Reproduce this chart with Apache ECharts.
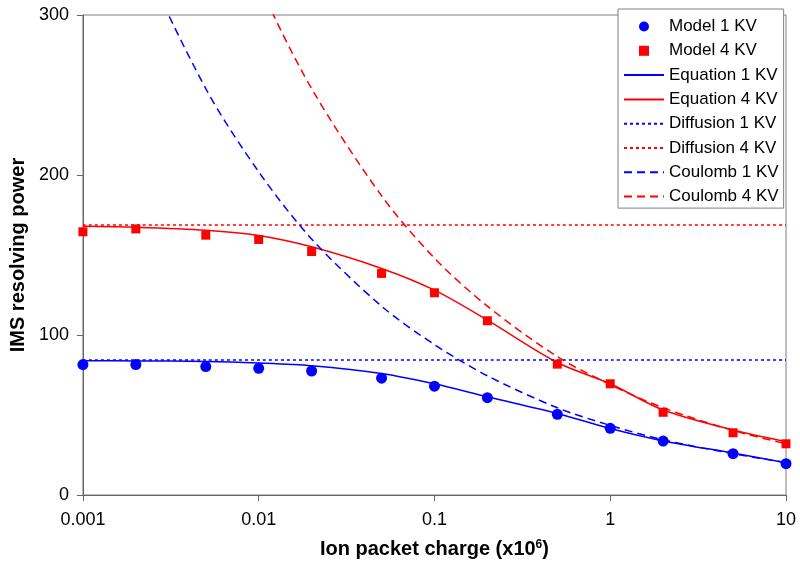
<!DOCTYPE html>
<html>
<head>
<meta charset="utf-8">
<script src="https://cdn.jsdelivr.net/npm/echarts@6/dist/echarts.min.js"></script>
<style>html,body{margin:0;padding:0;background:#fff;}#c{width:800px;height:569px;}</style>
</head>
<body>
<div id="c"></div>
<script>
var charges = [0.001, 0.002, 0.005, 0.01, 0.02, 0.05, 0.1, 0.2, 0.5, 1, 2, 5, 10];
var model1 = [81.5, 81.5, 80.3, 79.2, 77.5, 73, 68, 60.8, 50.4, 41.7, 33.7, 25.8, 19.6];
var model4 = [164.5, 166.3, 162.4, 159.7, 152.2, 138.5, 126.4, 108.9, 81.8, 69.5, 51.7, 38.9, 32];
var equation1 = [83.9, 83.8, 83.5, 82.5, 80.8, 76, 69.5, 61.4, 51, 41.5, 33.8, 26.2, 20.2];
var equation4 = [168, 167.4, 165.5, 162.2, 155.1, 141.6, 128, 109.3, 82.8, 69.5, 53.1, 40.6, 33.3];
var diffusion1 = [84.3, 84.3, 84.3, 84.3, 84.3, 84.3, 84.3, 84.3, 84.3, 84.3, 84.3, 84.3, 84.3];
var diffusion4 = [168.8, 168.8, 168.8, 168.8, 168.8, 168.8, 168.8, 168.8, 168.8, 168.8, 168.8, 168.8, 168.8];
var coulomb1 = [435, 345, 254, 202, 160, 118, 94, 74.5, 54.5, 43.5, 34.5, 25.8, 20.3];
var coulomb4 = [690, 548, 403, 320, 254, 187, 148, 118, 86.5, 69, 54.5, 40.3, 32];
var xTicks = [0.001, 0.01, 0.1, 1, 10];
var yTicks = [0, 100, 200, 300];

function pairs(vals) { return charges.map(function (c, i) { return [c, vals[i]]; }); }

var BLUE = '#0000FF', RED = '#FF0000';
var FONT = 'Liberation Sans, Arial, sans-serif';

function lineSeries(name, vals, color, type) {
  return {
    name: name, type: 'line', data: pairs(vals), symbol: 'none', smooth: 0.3,
    lineStyle: { color: color, width: 1.5, type: type },
    itemStyle: { color: color }, clip: true, z: 2
  };
}
function lineLegend(name) { return { name: name, itemStyle: { opacity: 0 } }; }

var chart = echarts.init(document.getElementById('c'), null, { renderer: 'canvas' });
chart.setOption({
  backgroundColor: '#fff',
  animation: false,
  textStyle: { fontFamily: FONT },
  grid: { left: 79, right: 14, top: 15, bottom: 74, show: true, borderColor: '#808080', borderWidth: 1, backgroundColor: 'transparent' },
  xAxis: {
    type: 'log', logBase: 10, min: xTicks[0], max: xTicks[xTicks.length - 1],
    name: 'Ion packet charge (x10{sup|6})', nameLocation: 'middle', nameGap: 44,
    nameTextStyle: { fontSize: 20, fontWeight: 'bold', color: '#000', fontFamily: FONT,
      rich: { sup: { fontSize: 12, fontWeight: 'bold', color: '#000', verticalAlign: 'top', fontFamily: FONT, padding: [0, 0, 8, 0] } } },
    axisLine: { lineStyle: { color: '#666', width: 1 } },
    axisTick: { show: true, inside: false, length: 6, lineStyle: { color: '#666' } },
    minorTick: { show: false },
    splitLine: { show: false },
    axisLabel: { fontSize: 18, color: '#000', margin: 16, fontFamily: FONT,
      formatter: function (v) {
        var best = xTicks.reduce(function (a, b) { return Math.abs(Math.log10(b) - Math.log10(v)) < Math.abs(Math.log10(a) - Math.log10(v)) ? b : a; });
        return String(best);
      } }
  },
  yAxis: {
    type: 'value', min: yTicks[0], max: yTicks[yTicks.length - 1], interval: 100,
    name: 'IMS resolving power', nameLocation: 'middle', nameGap: 50, nameRotate: 90,
    nameTextStyle: { fontSize: 20, fontWeight: 'bold', color: '#000', fontFamily: FONT },
    axisLine: { show: true, lineStyle: { color: '#666', width: 1 } },
    axisTick: { show: true, inside: false, length: 6, lineStyle: { color: '#666' } },
    splitLine: { show: false },
    axisLabel: { fontSize: 18, color: '#000', margin: 14, fontFamily: FONT }
  },
  legend: {
    orient: 'vertical', left: 618, top: 9, right: 15,
    backgroundColor: '#fff', borderColor: '#808080', borderWidth: 1,
    padding: [9, 5, 3, 5], itemGap: 7.3, itemWidth: 40, itemHeight: 10,
    textStyle: { fontSize: 17, color: '#000', fontFamily: FONT },
    data: [
      { name: 'Model 1 KV', icon: 'circle' },
      { name: 'Model 4 KV', icon: 'path://M0,0L10,0L10,10L0,10Z' },
      lineLegend('Equation 1 KV'), lineLegend('Equation 4 KV'),
      lineLegend('Diffusion 1 KV'), lineLegend('Diffusion 4 KV'),
      lineLegend('Coulomb 1 KV'), lineLegend('Coulomb 4 KV')
    ],
    z: 10
  },
  series: [
    { name: 'Model 1 KV', type: 'scatter', data: pairs(model1), symbol: 'circle', symbolSize: 11, itemStyle: { color: BLUE, opacity: 1 }, z: 5 },
    { name: 'Model 4 KV', type: 'scatter', data: pairs(model4), symbol: 'rect', symbolSize: 9, itemStyle: { color: RED, opacity: 1 }, z: 5 },
    lineSeries('Equation 1 KV', equation1, BLUE, 'solid'),
    lineSeries('Equation 4 KV', equation4, RED, 'solid'),
    lineSeries('Diffusion 1 KV', diffusion1, BLUE, [3, 3]),
    lineSeries('Diffusion 4 KV', diffusion4, RED, [3, 3]),
    lineSeries('Coulomb 1 KV', coulomb1, BLUE, [8, 5]),
    lineSeries('Coulomb 4 KV', coulomb4, RED, [8, 5])
  ]
});
</script>
</body>
</html>
